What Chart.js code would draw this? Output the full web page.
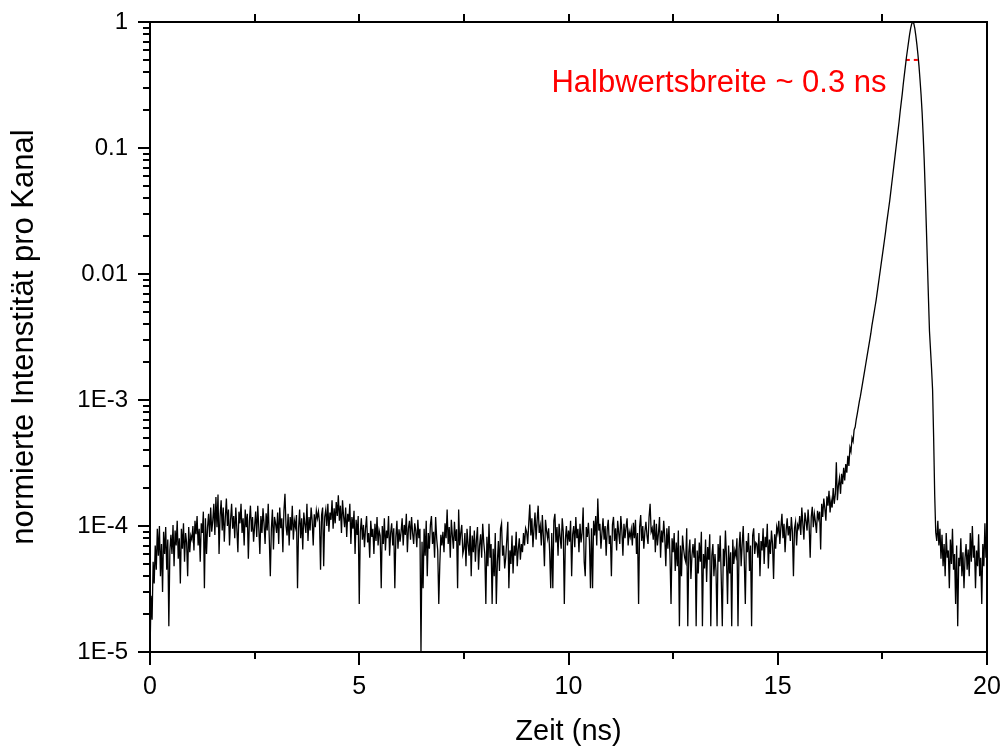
<!DOCTYPE html>
<html>
<head>
<meta charset="utf-8">
<script src="https://cdn.jsdelivr.net/npm/chart.js@4.4.1/dist/chart.umd.min.js"></script>
<style>
  html, body { margin: 0; padding: 0; background: #fff; }
  canvas { display: block; }
</style>
</head>
<body>
<canvas id="chart" width="1003" height="749"></canvas>
<script>
// intensity values are stored in units of 1e-6 (normalised to the peak)
const intensityUnit = 1e-6;
const channelWidth = 0.025; // ns

// background before the pulse, 0 ns .. 16.475 ns, one row = 0.5 ns
const baselineStart = 0;
const baselineCounts = [
  10, 28, 18, 52, 35, 70, 45, 95, 58, 100, 40, 72, 30, 90, 60, 98, 45, 78, 16, 64,
  85, 60, 102, 48, 92, 70, 110, 55, 80, 35, 95, 66, 105, 52, 88, 74, 40, 98, 62, 84,
  78, 100, 64, 110, 86, 120, 70, 95, 52, 105, 88, 130, 32, 115, 60, 98, 125, 82, 140, 90,
  110, 150, 85, 170, 98, 178, 60, 120, 160, 92, 140, 75, 118, 165, 100, 135, 70, 112, 150, 95,
  120, 80, 140, 95, 62, 130, 105, 150, 88, 115, 70, 135, 98, 125, 55, 110, 145, 90, 118, 75,
  100, 130, 82, 145, 96, 60, 120, 88, 138, 104, 72, 126, 92, 150, 80, 40, 95, 135, 65, 118,
  105, 88, 128, 72, 140, 96, 115, 62, 132, 180, 100, 84, 125, 70, 118, 92, 145, 78, 110, 98,
  122, 32, 96, 135, 80, 115, 65, 128, 104, 88, 150, 76, 118, 92, 140, 110, 70, 124, 98, 132,
  115, 130, 108, 45, 122, 140, 48, 118, 135, 100, 150, 90, 128, 112, 160, 95, 138, 105, 155, 120,
  175, 110, 145, 88, 160, 120, 98, 140, 82, 125, 108, 150, 72, 118, 95, 132, 60, 112, 85, 120,
  24, 90, 115, 78, 102, 68, 96, 120, 74, 88, 56, 110, 82, 95, 60, 104, 76, 118, 70, 92,
  84, 32, 100, 72, 115, 64, 92, 80, 120, 58, 88, 105, 70, 96, 32, 82, 110, 66, 94, 75,
  90, 115, 70, 102, 85, 125, 62, 96, 110, 78, 118, 88, 72, 105, 92, 68, 112, 80, 95, 10,
  75, 32, 95, 58, 110, 40, 88, 66, 102, 120, 72, 90, 56, 118, 80, 64, 24, 50, 85, 70,
  90, 62, 105, 80, 135, 72, 98, 56, 112, 84, 66, 108, 76, 94, 32, 135, 70, 88, 102, 60,
  66, 88, 48, 95, 72, 58, 100, 40, 84, 62, 92, 52, 78, 98, 45, 70, 86, 56, 104, 74,
  60, 24, 82, 48, 104, 56, 72, 24, 66, 40, 88, 24, 52, 76, 44, 95, 105, 58, 70, 46,
  56, 78, 108, 32, 64, 50, 84, 42, 70, 58, 90, 48, 66, 80, 54, 72, 62, 88, 70, 96,
  90, 72, 105, 148, 84, 115, 68, 95, 128, 78, 110, 145, 88, 100, 70, 122, 82, 48, 112, 92,
  80, 96, 62, 32, 88, 32, 110, 125, 74, 98, 58, 104, 82, 66, 115, 90, 24, 78, 100, 70,
  92, 75, 110, 40, 86, 100, 68, 118, 80, 95, 62, 104, 74, 88, 140, 52, 40, 98, 82, 106,
  76, 32, 96, 32, 110, 84, 120, 70, 165, 92, 104, 66, 88, 115, 78, 100, 58, 94, 112, 72,
  84, 40, 102, 118, 76, 96, 64, 110, 88, 72, 120, 92, 58, 104, 80, 98, 115, 70, 90, 82,
  94, 70, 106, 80, 112, 60, 88, 24, 98, 122, 76, 100, 66, 90, 108, 84, 72, 118, 150, 90,
  96, 78, 112, 62, 104, 70, 88, 118, 56, 92, 74, 110, 82, 48, 96, 66, 100, 58, 24, 80,
  62, 88, 44, 74, 48, 92, 16, 70, 40, 84, 66, 56, 52, 96, 16, 62, 78, 38, 58, 72,
  56, 80, 16, 64, 42, 74, 52, 90, 16, 60, 46, 78, 36, 68, 54, 86, 16, 58, 72, 40,
  60, 44, 16, 72, 52, 84, 38, 16, 66, 48, 92, 56, 24, 70, 42, 62, 16, 78, 50, 64,
  58, 80, 16, 66, 90, 48, 72, 100, 54, 24, 76, 62, 88, 44, 70, 16, 84, 96, 60, 74,
  72, 56, 88, 40, 76, 64, 96, 50, 82, 68, 104, 46, 78, 60, 92, 72, 38, 86, 66, 98,
  88, 110, 72, 98, 125, 80, 104, 62, 92, 115, 84, 100, 76, 118, 90, 40, 96, 108, 70, 102,
  96, 120, 85, 140, 104, 78, 128, 110, 92, 135, 100, 56, 118, 142, 98, 125, 108, 88, 132, 115,
  130, 65, 150, 118, 165, 138, 110, 172, 145, 190, 128, 160, 140, 200, 150, 178, 320, 160, 210, 240
];

// the pulse itself, 16.5 ns .. 18.8 ns
const pulseStart = 16.5;
const pulseCounts = [
  180, 260, 215, 290, 230, 310, 265, 360, 300, 420, 390, 500, 470, 580, 610, 700, 776, 871, 977, 1072,
  1202, 1349, 1514, 1698, 1905, 2138, 2399, 2692, 3020, 3388, 3890, 4365, 4898, 5495, 6166, 7079, 8128, 9333, 10715, 12303,
  14125, 16218, 18621, 21380, 25119, 28840, 33113, 38019, 44668, 52481, 61660, 72444, 85114, 100000, 117490, 138038, 162181, 194984, 229087, 269153,
  323594, 380189, 446684, 524807, 602560, 691831, 794328, 891251, 966051, 1000000, 977237, 891251, 776247, 660693, 549541, 446684, 346737, 263027, 190546, 125893,
  79433, 44668, 23988, 12589, 6607, 3548, 2512, 1778, 1202, 501, 178, 89, 76
];

// background after the pulse, 18.825 ns .. 20 ns
const tailStart = 18.825;
const tailCounts = [
  110, 70, 95, 55, 85, 48, 72, 40,
  88, 56, 64, 32, 78, 50, 95, 45, 60, 24, 70, 16, 56, 48, 80, 40, 62, 32, 56, 72,
  45, 65, 40, 88, 52, 100, 56, 70, 32, 64, 48, 86, 40, 56, 24, 72, 48, 105, 56, 64
];

// full width at half maximum marker
const halfMaxTimes = [18.06, 18.37];
const halfMaxLevel = 0.5;
const annotationText = 'Halbwertsbreite ~ 0.3 ns';

const xTickValues = [0, 5, 10, 15, 20];
const xTickMarks = [0, 2.5, 5, 7.5, 10, 12.5, 15, 17.5, 20];
const yTickValues = [1e-5, 1e-4, 1e-3, 1e-2, 1e-1, 1];
const yTickLabels = ['1E-5', '1E-4', '1E-3', '0.01', '0.1', '1'];

const FONT = "'Liberation Sans', Arial, sans-serif";

function toPoints(start, counts) {
  return counts.map((c, i) => ({ x: +(start + i * channelWidth).toFixed(3), y: c * intensityUnit }));
}

const trace = [
  ...toPoints(baselineStart, baselineCounts),
  ...toPoints(pulseStart, pulseCounts),
  ...toPoints(tailStart, tailCounts)
];

const axesFrame = {
  id: 'axesFrame',
  afterDatasetsDraw(chart) {
    const { ctx, chartArea: a, scales: { x, y } } = chart;
    ctx.save();
    ctx.strokeStyle = '#000';
    ctx.lineWidth = 2;
    ctx.strokeRect(a.left, a.top, a.right - a.left, a.bottom - a.top);

    ctx.beginPath();
    xTickMarks.forEach(t => {
      const px = Math.round(x.getPixelForValue(t));
      const major = t % 5 === 0;
      ctx.moveTo(px, a.bottom);
      ctx.lineTo(px, a.bottom + (major ? 13 : 7));
      if (t > 0 && t < 20) {
        ctx.moveTo(px, a.top);
        ctx.lineTo(px, a.top - 8);
      }
    });
    yTickValues.forEach((d, i) => {
      const py = Math.round(y.getPixelForValue(d));
      ctx.moveTo(a.left, py);
      ctx.lineTo(a.left - 12, py);
      if (i < yTickValues.length - 1) {
        for (let m = 2; m <= 9; m++) {
          const pm = Math.round(y.getPixelForValue(d * m));
          ctx.moveTo(a.left, pm);
          ctx.lineTo(a.left - 7, pm);
        }
      }
    });
    ctx.stroke();

    ctx.fillStyle = '#ff0000';
    ctx.font = '31px ' + FONT;
    ctx.textAlign = 'right';
    ctx.textBaseline = 'alphabetic';
    ctx.fillText(annotationText, x.getPixelForValue(17.6), y.getPixelForValue(0.28));
    ctx.restore();
  }
};

new Chart(document.getElementById('chart'), {
  type: 'line',
  data: {
    datasets: [
      {
        data: trace,
        borderColor: '#000',
        borderWidth: 1.3,
        pointRadius: 0,
        tension: 0
      },
      {
        data: halfMaxTimes.map(t => ({ x: t, y: halfMaxLevel })),
        borderColor: '#ff0000',
        borderWidth: 2,
        borderDash: [4, 4],
        pointRadius: 0
      }
    ]
  },
  options: {
    responsive: false,
    animation: false,
    events: [],
    layout: { padding: { top: 22, right: 16, left: 0, bottom: 0 } },
    plugins: {
      legend: { display: false },
      tooltip: { enabled: false }
    },
    scales: {
      x: {
        type: 'linear',
        min: 0,
        max: 20,
        afterBuildTicks: scale => { scale.ticks = xTickValues.map(v => ({ value: v })); },
        afterFit: scale => {
          scale.height = 97;
          scale.paddingLeft = 0;
          scale.paddingRight = 0;
        },
        grid: { display: false, drawTicks: false },
        border: { display: false },
        ticks: {
          color: '#000',
          padding: 20,
          maxRotation: 0,
          autoSkip: false,
          font: { family: FONT, size: 25 }
        },
        title: {
          display: true,
          text: 'Zeit (ns)',
          color: '#000',
          font: { family: FONT, size: 29 },
          padding: { top: 0, bottom: 0 }
        }
      },
      y: {
        type: 'logarithmic',
        min: 1e-5,
        max: 1,
        afterBuildTicks: scale => { scale.ticks = yTickValues.map(v => ({ value: v })); },
        afterFit: scale => {
          scale.width = 150;
          scale.paddingTop = 0;
          scale.paddingBottom = 0;
        },
        grid: { display: false, drawTicks: false },
        border: { display: false },
        ticks: {
          color: '#000',
          padding: 22,
          autoSkip: false,
          font: { family: FONT, size: 24 },
          callback: (value, index) => yTickLabels[index]
        },
        title: {
          display: true,
          text: 'normierte Intenstität pro Kanal',
          color: '#000',
          font: { family: FONT, size: 31 },
          padding: { top: 6, bottom: 0 }
        }
      }
    }
  },
  plugins: [axesFrame]
});
</script>
</body>
</html>
